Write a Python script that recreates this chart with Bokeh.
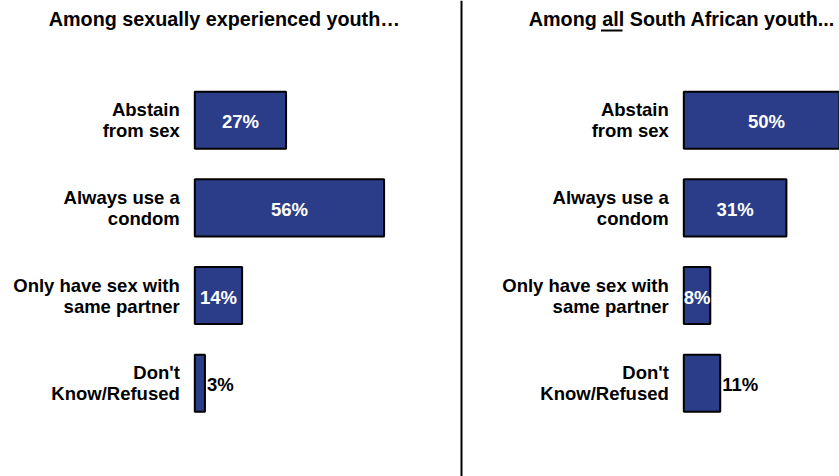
from bokeh.plotting import figure
from bokeh.models import Range1d, ColumnDataSource, Span
from bokeh.core.properties import value
from bokeh.embed import file_html
from bokeh.resources import INLINE

# ---- data ----
categories = ["Abstain\nfrom sex", "Always use a\ncondom",
              "Only have sex with\nsame partner", "Don't\nKnow/Refused"]
experienced_pct = [27, 56, 14, 3]
all_youth_pct = [50, 31, 8, 11]
label_inside = [True, True, True, False]
title_left = "Among sexually experienced youth\u2026"
title_right = "Among all South African youth..."

# ---- layout / style ----
W, H = 839, 476
ROW = 87.73          # px per category row
TOP = 119.65         # px from top to first row centre
L_ZERO, L_SCALE = 194.3, 3.38
R_ZERO, R_SCALE = 683.3, 3.31
NAVY = "#2B3D88"
FONT = value("Liberation Sans")


def ly(px):  # px from top -> y data
    return (TOP - px) / ROW


def lx(px):
    return (px - L_ZERO) / L_SCALE


def rx(px):
    return (px - R_ZERO) / R_SCALE


rows = [-i for i in range(len(categories))]

p = figure(width=W, height=H, output_backend="svg", toolbar_location=None,
           x_range=Range1d(lx(0), lx(W)), y_range=Range1d(ly(H), ly(0)),
           x_axis_location=None, y_axis_location=None,
           min_border=0, outline_line_color=None,
           background_fill_color="white", border_fill_color="white")
p.extra_x_ranges = {"right": Range1d(rx(0), rx(W))}
p.grid.visible = False


def panel(vals, rng):
    src = ColumnDataSource(dict(y=rows, v=vals, cat=categories))
    p.hbar(y="y", left=0, right="v", height=0.65, fill_color=NAVY,
           line_color="black", line_width=2, source=src, x_range_name=rng)
    p.text(x=0, y="y", text="cat", x_offset=-15, text_align="right",
           text_baseline="middle", text_font=FONT, text_font_style="bold",
           text_font_size="18.5px", text_line_height=1.0, text_color="black",
           source=src, x_range_name=rng)
    ins = [i for i in range(len(vals)) if label_inside[i]]
    out = [i for i in range(len(vals)) if not label_inside[i]]
    s_in = ColumnDataSource(dict(x=[vals[i] / 2 for i in ins], y=[rows[i] for i in ins],
                                 t=[f"{vals[i]}%" for i in ins]))
    s_out = ColumnDataSource(dict(x=[vals[i] for i in out], y=[rows[i] for i in out],
                                  t=[f"{vals[i]}%" for i in out]))
    p.text(x="x", y="y", text="t", y_offset=1.5, text_align="center", text_baseline="middle",
           text_font=FONT, text_font_style="bold", text_font_size="18.5px",
           text_color="white", source=s_in, x_range_name=rng)
    p.text(x="x", y="y", text="t", x_offset=2, y_offset=1, text_align="left",
           text_baseline="middle",
           text_font=FONT, text_font_style="bold", text_font_size="18.5px",
           text_color="black", source=s_out, x_range_name=rng)


panel(experienced_pct, "default")
panel(all_youth_pct, "right")

# titles
p.text(x=[lx(48.3)], y=[ly(18.7)], text=[title_left], text_align="left",
       text_baseline="middle", text_font=FONT, text_font_style="bold",
       text_font_size="19.75px", text_color="black")
p.text(x=[rx(528.3)], y=[ly(18.7)], text=[title_right], text_align="left",
       text_baseline="middle", text_font=FONT, text_font_style="bold",
       text_font_size="19.75px", text_color="black", x_range_name="right")
# underline under "all"
p.segment(x0=[rx(600.5)], x1=[rx(622.0)], y0=[ly(30.0)], y1=[ly(30.0)],
          line_color="black", line_width=2, x_range_name="right")

# divider between the two panels
p.add_layout(Span(location=lx(461), dimension="height", line_color="black", line_width=2))

open("out.html", "w").write(file_html(p, INLINE))
